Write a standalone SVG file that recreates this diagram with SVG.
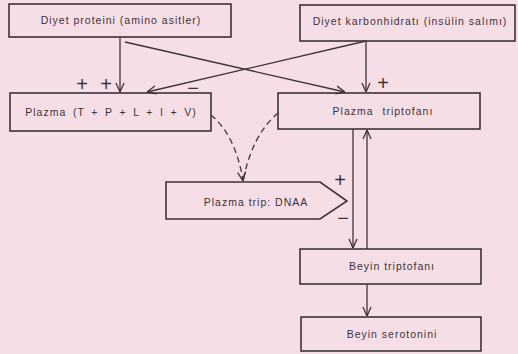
<svg xmlns="http://www.w3.org/2000/svg" width="518" height="354" viewBox="0 0 518 354">
<defs>
<style>
.box{fill:none;stroke:#3e3338;stroke-width:1.6}
.ln{fill:none;stroke:#3e3338;stroke-width:1.3}
.dash{fill:none;stroke:#4a3d42;stroke-width:1.4;stroke-dasharray:6 4}
.t{font-family:"Liberation Sans",Arial,sans-serif;font-size:10.5px;letter-spacing:1px;fill:#3e3338;text-anchor:middle}
.s{font-family:"Liberation Sans",Arial,sans-serif;font-size:20px;fill:#3e3338;text-anchor:middle}
</style>
<marker id="ah" viewBox="0 0 10 10" refX="10" refY="5" markerWidth="10" markerHeight="10" markerUnits="userSpaceOnUse" orient="auto">
<path d="M1,1 L10,5 L1,9" fill="none" stroke="#3e3338" stroke-width="1.3"/>
</marker>
</defs>
<rect width="518" height="354" fill="#f6dee7"/>
<g id="connectors">
<path class="ln" d="M120,37 V92" marker-end="url(#ah)"/>
<path class="ln" d="M125,42 L345,92" marker-end="url(#ah)"/>
<path class="ln" d="M366,41 L147,92" marker-end="url(#ah)"/>
<path class="ln" d="M366,41 V92" marker-end="url(#ah)"/>
<path class="ln" d="M353,129 V248" marker-end="url(#ah)"/>
<path class="ln" d="M367,249 V130" marker-end="url(#ah)"/>
<path class="ln" d="M367,284 V316" marker-end="url(#ah)"/>
<path class="dash" d="M211,115 Q236,136 243,181" marker-end="url(#ah)"/>
<path class="dash" d="M278,113 Q252,135 243,181"/>
<text class="s" x="82" y="91">+</text>
<text class="s" x="106" y="91">+</text>
<text class="s" x="193" y="95">−</text>
<text class="s" x="383" y="90">+</text>
<text class="s" x="340" y="187">+</text>
<text class="s" x="343" y="225">−</text>
</g>
<g id="n1"><rect class="box" x="9" y="4" width="222" height="33"/><text class="t" x="121" y="24">Diyet proteini (amino asitler)</text></g>
<g id="n2"><rect class="box" x="300" y="5" width="215" height="36"/><text class="t" x="410" y="25">Diyet karbonhidratı (insülin salımı)</text></g>
<g id="n3"><rect class="box" x="10" y="93" width="201" height="38"/><text class="t" x="111" y="116" style="word-spacing:2.7px">Plazma (T + P + L + I + V)</text></g>
<g id="n4"><rect class="box" x="278" y="93" width="202" height="36"/><text class="t" x="383" y="115" style="word-spacing:5px">Plazma triptofanı</text></g>
<g id="n5"><path class="box" d="M166,182 L320,182 L347,201 L320,219 L166,219 Z"/><text class="t" x="256" y="206">Plazma trip: DNAA</text></g>
<g id="n6"><rect class="box" x="300" y="249" width="181" height="35"/><text class="t" x="392" y="270">Beyin triptofanı</text></g>
<g id="n7"><rect class="box" x="301" y="317" width="180" height="34"/><text class="t" x="392" y="338">Beyin serotonini</text></g>
</svg>
